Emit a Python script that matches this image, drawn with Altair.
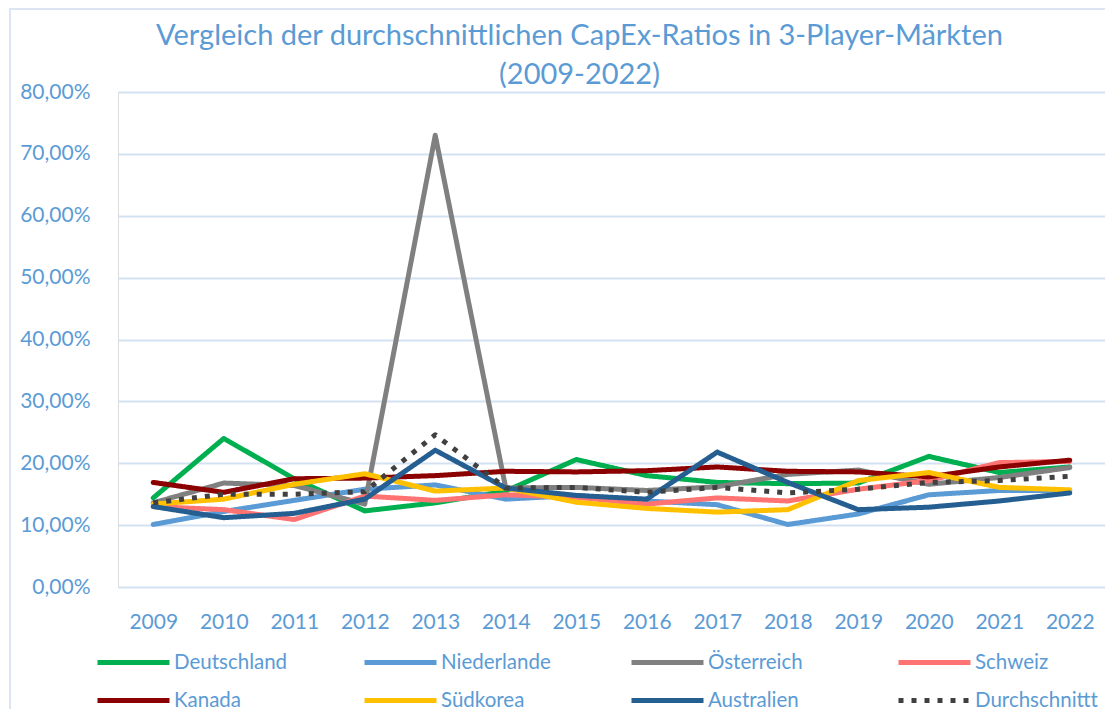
import altair as alt
import pandas as pd

years = [str(y) for y in range(2009, 2023)]

deutschland = [14.4, 24.0, 17.5, 12.3, 13.6, 15.5, 20.6, 18.0, 16.9, 16.7, 16.8, 21.1, 18.5, 19.4]
niederlande = [10.1, 12.2, 14.0, 15.8, 16.5, 14.2, 14.8, 13.9, 13.3, 10.1, 11.8, 14.9, 15.6, 15.6]
oesterreich = [13.6, 16.8, 16.4, 13.4, 73.0, 16.0, 16.1, 15.6, 16.2, 18.2, 18.9, 16.6, 17.7, 19.3]
schweiz = [13.0, 12.5, 10.9, 14.7, 14.0, 14.9, 14.5, 13.4, 14.4, 13.9, 15.8, 17.2, 20.1, 20.3]
kanada = [16.9, 15.3, 17.5, 17.6, 18.0, 18.7, 18.6, 18.8, 19.4, 18.7, 18.6, 17.8, 19.4, 20.5]
suedkorea = [13.4, 14.2, 16.6, 18.3, 15.5, 16.0, 13.7, 12.7, 12.1, 12.5, 17.2, 18.5, 16.1, 15.7]
australien = [13.0, 11.2, 11.9, 14.2, 22.1, 16.0, 14.8, 14.2, 21.8, 16.9, 12.5, 12.9, 13.9, 15.2]
durchschnitt = [13.6, 15.0, 15.0, 15.4, 24.6, 16.0, 16.1, 15.3, 16.1, 15.2, 15.8, 16.9, 17.2, 17.9]

series_names = ["Deutschland", "Niederlande", "Österreich", "Schweiz",
                "Kanada", "Südkorea", "Australien", "Durchschnittt"]
series_values = [deutschland, niederlande, oesterreich, schweiz,
                 kanada, suedkorea, australien, durchschnitt]
colors = ["#00B050", "#5B9BD5", "#808080", "#FF7373",
          "#8B0000", "#FFC000", "#255E91", "#404040"]
dashes = [[1, 0]] * 7 + [[5, 8]]

y_ticks = [0, 0.1, 0.2, 0.3, 0.4, 0.5, 0.6, 0.7, 0.8]

rows = []
for name, vals in zip(series_names, series_values):
    for yr, v in zip(years, vals):
        rows.append({"Jahr": yr, "Land": name, "Wert": v / 100.0})
df = pd.DataFrame(rows)

TXT = "#5B9BD5"
FONT = "Lato"
FRAME = "#DCE6F2"

legend = alt.Legend(
    title=None, orient="none", legendX=1, legendY=556,
    columns=4, direction="horizontal", gridAlign="all",
    columnPadding=57, rowPadding=13,
    symbolType="M-3,0L3,0", symbolSize=576, symbolStrokeWidth=5,
    labelFont=FONT, labelFontSize=20.5, labelColor=TXT, labelOffset=26,
    labelLimit=300,
)

color = alt.Color("Land:N", scale=alt.Scale(domain=series_names, range=colors), legend=legend)
dash = alt.StrokeDash("Land:N", scale=alt.Scale(domain=series_names, range=dashes), legend=legend)

x = alt.X("Jahr:O", sort=years, title=None,
          axis=alt.Axis(labelAngle=0, ticks=False, domain=False, grid=False,
                        labelFont=FONT, labelFontSize=21, labelColor=TXT, labelPadding=24))
y = alt.Y("Wert:Q", title=None, scale=alt.Scale(domain=[0, 0.8]),
          axis=alt.Axis(values=y_ticks, labelExpr="replace(format(datum.value, '.2%'), '.', ',')",
                        grid=True, gridColor="#D3E2F2", gridWidth=2, domain=False, ticks=False,
                        labelFont=FONT, labelFontSize=21, labelColor=TXT, labelPadding=28))

base = alt.Chart(df).encode(x=x, y=y, color=color, strokeDash=dash)

countries = base.transform_filter(alt.datum.Land != "Durchschnittt").mark_line(
    strokeWidth=5, strokeJoin="round", strokeCap="round")
average = base.transform_filter(alt.datum.Land == "Durchschnittt").mark_line(
    strokeWidth=5, strokeJoin="round")

frame_df = pd.DataFrame({"k": [0]})
frame_left = alt.Chart(frame_df).mark_rule(color=FRAME, strokeWidth=2).encode(
    x=alt.value(-108), y=alt.value(-84), y2=alt.value(640))
frame_top = alt.Chart(frame_df).mark_rule(color=FRAME, strokeWidth=2).encode(
    x=alt.value(-109), x2=alt.value(1000), y=alt.value(-83))

chart = alt.layer(frame_left, frame_top, countries, average).properties(
    width=987, height=495,
    autosize=alt.AutoSizeParams(type="none"),
    padding={"left": 110, "top": 84, "right": 0, "bottom": 122},
    title=alt.TitleParams(
        ["Vergleich der durchschnittlichen CapEx-Ratios in 3-Player-Märkten", "(2009-2022)"],
        font=FONT, fontSize=29, fontWeight="normal", color=TXT, lineHeight=39,
        anchor="middle", offset=-83, dx=-32),
).configure_view(strokeWidth=0).configure(background="white")

chart.save("out.html", embed_options={"renderer": "svg", "actions": False})
